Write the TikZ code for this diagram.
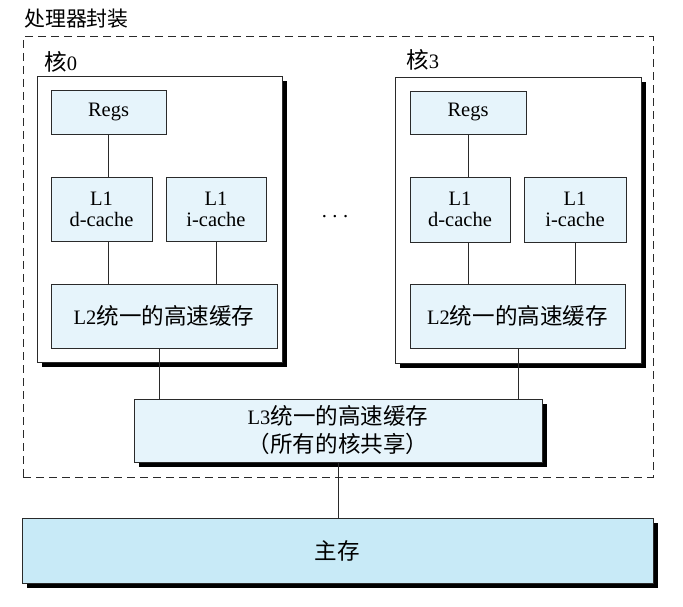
\documentclass[tikz,border=0pt]{standalone}
\usepackage{fontspec}
\setmainfont{Liberation Serif}
\newfontfamily\cjk[Scale=1.1]{Noto Sans CJK SC}
\usetikzlibrary{shadows}
\definecolor{boxfill}{HTML}{E6F4FB}
\definecolor{memfill}{HTML}{C8EAF7}
\definecolor{edge}{HTML}{2A2A2A}
\begin{document}
\begin{tikzpicture}[x=1pt,y=-1pt,
  txt/.style={font=\fontsize{20.5}{21}\selectfont},
  box/.style={draw=edge, line width=0.8pt, fill=boxfill, inner sep=0pt, align=center, txt},
  corebox/.style={draw=edge, line width=0.8pt, fill=white, inner sep=0pt,
    drop shadow={shadow xshift=5pt, shadow yshift=-5pt, opacity=1, fill=black}},
  shbox/.style={box, drop shadow={shadow xshift=5pt, shadow yshift=-5pt, opacity=1, fill=black}},
  pkgbox/.style={draw=edge, line width=1pt, dash pattern=on 8pt off 5pt, inner sep=0pt},
  conn/.style={draw=edge, line width=0.8pt},
  lbl/.style={txt, anchor=west, inner sep=0pt}
]
\useasboundingbox (0,0) rectangle (683,607);

% title and package frame
\node[lbl, font=\fontsize{19}{21}\selectfont] (title) at (24,19) {\cjk 处理器封装};
\node[pkgbox, minimum width=630pt, minimum height=440pt] (pkg) at (338,257) {};

% core boxes
\node[corebox, minimum width=245pt, minimum height=286pt] (core0) at (159.5,219) {};
\node[corebox, minimum width=246pt, minimum height=286pt] (core3) at (518,220) {};
\node[lbl] (lab0) at (44,62) {{\cjk 核}0};
\node[lbl] (lab3) at (406,60) {{\cjk 核}3};

% core 0 contents
\node[box, minimum width=115pt, minimum height=44pt] (regs0) at (108.5,112) {Regs};
\node[box, minimum width=101pt, minimum height=64pt] (d0) at (101.5,209) {L1\\d-cache};
\node[box, minimum width=100pt, minimum height=64pt] (i0) at (216,209) {L1\\i-cache};
\node[box, minimum width=226pt, minimum height=64pt] (l2a) at (164,316) {L2{\cjk 统一的高速缓存}};

% core 3 contents
\node[box, minimum width=116pt, minimum height=43pt] (regs3) at (468,112.5) {Regs};
\node[box, minimum width=100pt, minimum height=65pt] (d3) at (460,209.5) {L1\\d-cache};
\node[box, minimum width=102pt, minimum height=65pt] (i3) at (575,209.5) {L1\\i-cache};
\node[box, minimum width=215pt, minimum height=64pt] (l2b) at (517.5,316) {L2{\cjk 统一的高速缓存}};

% ellipsis
\node[txt, inner sep=0pt] (dots) at (335,217) {.\hspace{5.5pt}.\hspace{5.5pt}.};

% L3 and main memory
\node[shbox, minimum width=408pt, minimum height=63pt,
  font=\fontsize{20.5}{28}\selectfont] (l3) at (338,430.5) {L3{\cjk 统一的高速缓存}\\{\cjk （所有的核共享）}};
\node[shbox, fill=memfill, minimum width=631pt, minimum height=65pt] (mem) at (337.5,550.5) {{\cjk 主存}};

% connectors core 0
\draw[conn] (regs0.south) -- (regs0.south |- d0.north);
\draw[conn] (regs0.south |- d0.south) -- (regs0.south |- l2a.north);
\draw[conn] (i0.south) -- (i0.south |- l2a.north);
\draw[conn] (core0.south |- l2a.south) -- (core0.south |- l3.north);

% connectors core 3
\draw[conn] (regs3.south) -- (regs3.south |- d3.north);
\draw[conn] (regs3.south |- d3.south) -- (regs3.south |- l2b.north);
\draw[conn] (i3.south) -- (i3.south |- l2b.north);
\draw[conn] (core3.south |- l2b.south) -- (core3.south |- l3.north);

% L3 to memory
\draw[conn] (l3.south) -- (l3.south |- mem.north);
\end{tikzpicture}
\end{document}
